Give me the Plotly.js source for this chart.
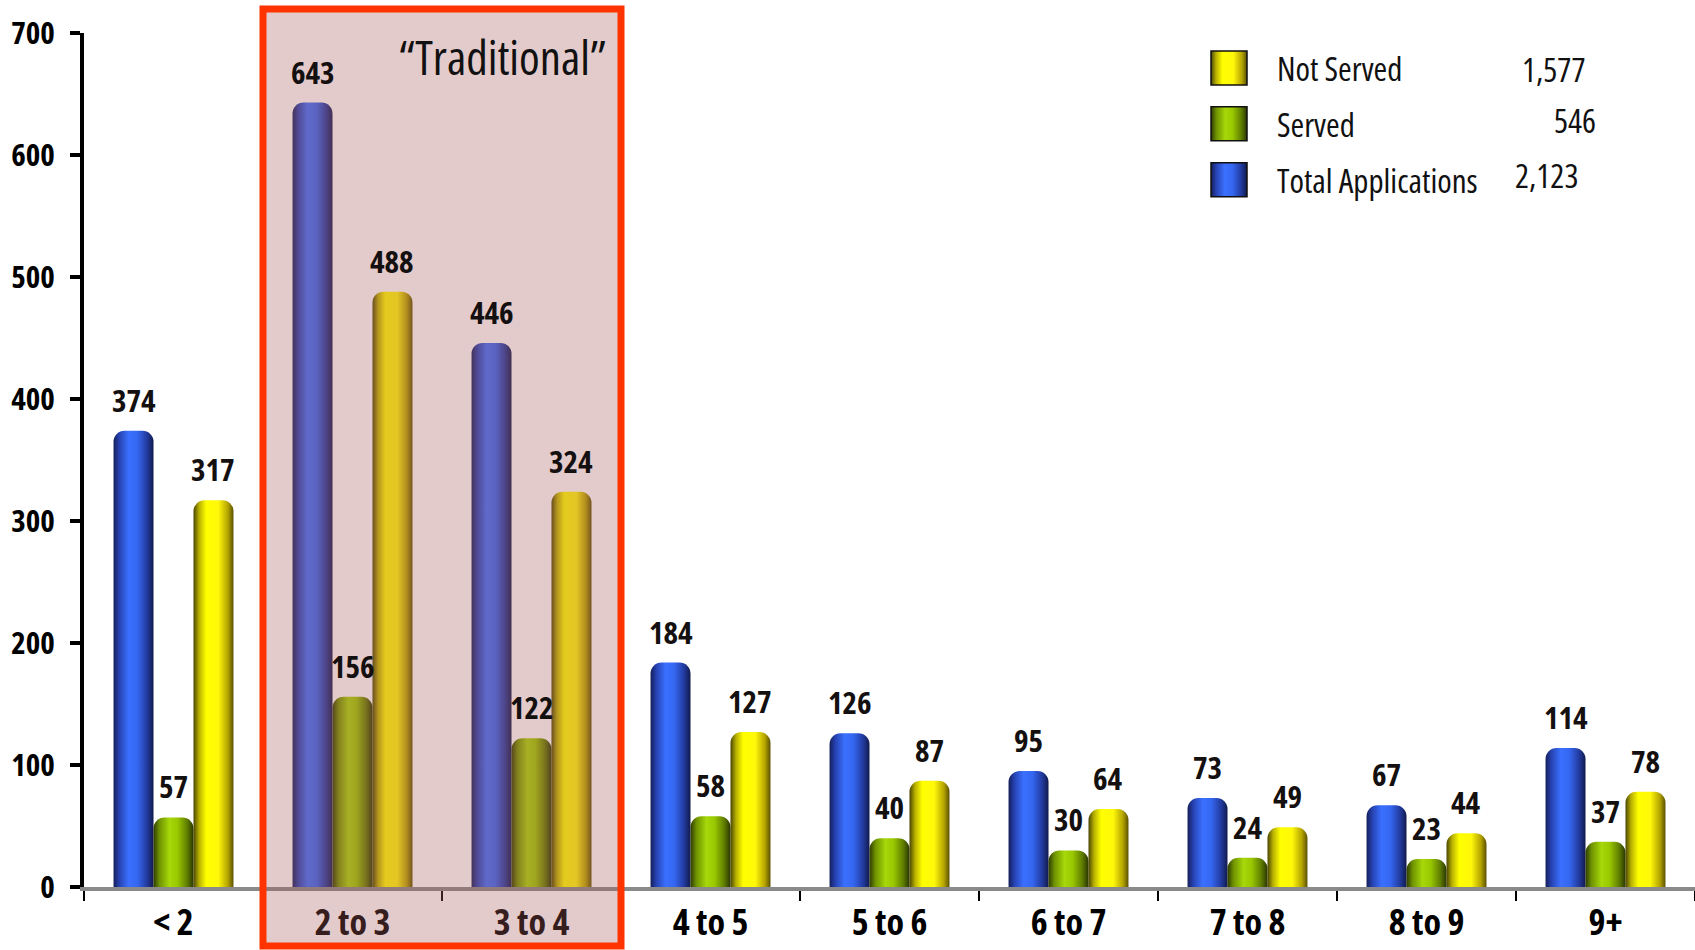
<!DOCTYPE html>
<html>
<head>
<meta charset="utf-8">
<script src="https://cdn.plot.ly/plotly-3.0.1.min.js"></script>
<style>
  html, body { margin: 0; padding: 0; background: #ffffff; }
  #chart { width: 1695px; height: 950px; }
  /* condensed face for every chart label (also used when Plotly measures text) */
  svg text { font-stretch: 75% !important; }
</style>
</head>
<body>
<div id="chart"></div>
<script>
// Applications by category, split into served / not served
const categories = ['< 2', '2 to 3', '3 to 4', '4 to 5', '5 to 6', '6 to 7', '7 to 8', '8 to 9', '9+'];
const totalApplications = [374, 643, 446, 184, 126, 95, 73, 67, 114];
const served = [57, 156, 122, 58, 40, 30, 24, 23, 37];
const notServed = [317, 488, 324, 127, 87, 64, 49, 44, 78];

const seriesNames = ['Total Applications', 'Served', 'Not Served'];
const seriesTotals = ['2,123', '546', '1,577'];

const FONT = '"Open Sans", "Roboto Condensed", "Liberation Sans", Arial, sans-serif';
const BAR_GAP = 0.33;
const PLOT = { left: 84, top: 33, width: 1611, height: 854 };

// cylinder shading, left edge -> right edge
const SHADES = [
  { id: 'shadeBlue', base: '#3366ff', stops: [[0, '#141e58'], [0.14, '#2641b0'], [0.38, '#3b70ff'], [0.6, '#3466f0'], [0.84, '#223a9e'], [1, '#111a4c']] },
  { id: 'shadeGreen', base: '#99cc00', stops: [[0, '#2e3c00'], [0.15, '#6f9200'], [0.4, '#a6d80a'], [0.6, '#99c800'], [0.84, '#607e00'], [1, '#2a3600']] },
  { id: 'shadeYellow', base: '#ffff00', stops: [[0, '#4a4600'], [0.14, '#b8b000'], [0.32, '#ffff00'], [0.62, '#fff80a'], [0.86, '#b4a400'], [1, '#5a5000']] }
];

const seriesValues = [totalApplications, served, notServed];

const data = seriesValues.map((vals, j) => ({
  type: 'bar',
  x: categories,
  y: vals,
  name: seriesNames[j],
  legendgroup: 'g' + j,
  legendrank: 3 - j,
  marker: { color: SHADES[j].base, line: { width: 0 } },
  hoverinfo: 'skip'
}));

// value labels above each bar
const barWidth = (1 - BAR_GAP) / 3;
const annotations = [];
seriesValues.forEach((vals, j) => {
  vals.forEach((v, i) => {
    annotations.push({
      xref: 'x', yref: 'y',
      x: i + (j - 1) * barWidth, y: v,
      text: String(v), showarrow: false,
      xanchor: 'center', yanchor: 'bottom', yshift: 8,
      font: { family: FONT, size: 31, weight: 'bold', color: '#141010' }
    });
  });
});

// totals next to the legend entries
const px2x = (px) => (px - PLOT.left) / PLOT.width;
const px2y = (py) => (PLOT.top + PLOT.height - py) / PLOT.height;
const totalsPos = [[1513, 176], [1552, 120], [1520, 69]];
seriesTotals.forEach((t, j) => {
  annotations.push({
    xref: 'paper', yref: 'paper',
    x: px2x(totalsPos[j][0]), y: px2y(totalsPos[j][1]),
    text: t, showarrow: false, xanchor: 'left', yanchor: 'middle',
    font: { family: FONT, size: 33, color: '#111111' }
  });
});

annotations.push({
  xref: 'x', yref: 'paper',
  x: 2.5, xanchor: 'right', xshift: -13,
  y: px2y(57), yanchor: 'middle',
  text: '\u201CTraditional\u201D', showarrow: false,
  font: { family: FONT, size: 47, color: '#111111' }
});

const layout = {
  width: 1695, height: 950,
  margin: { l: PLOT.left, r: 0, t: PLOT.top, b: 950 - PLOT.top - PLOT.height },
  paper_bgcolor: '#ffffff', plot_bgcolor: '#ffffff',
  font: { family: FONT, color: '#000000' },
  barmode: 'group', bargap: BAR_GAP, bargroupgap: 0, barcornerradius: 11,
  showlegend: true,
  xaxis: {
    type: 'category', range: [-0.5, 8.5],
    tickson: 'boundaries', ticks: 'outside', ticklen: 10, tickwidth: 2, tickcolor: '#000000',
    showline: true, linecolor: '#8a8a8a', linewidth: 4,
    showgrid: false, zeroline: false,
    tickfont: { family: FONT, size: 36, weight: 'bold', color: '#000000' },
    ticklabelstandoff: 1
  },
  yaxis: {
    range: [0, 700], tick0: 0, dtick: 100,
    ticks: 'outside', ticklen: 10, tickwidth: 4, tickcolor: '#000000',
    showline: true, linecolor: '#000000', linewidth: 4,
    showgrid: false, zeroline: false,
    tickfont: { family: FONT, size: 31, weight: 'bold', color: '#000000' },
    ticklabelstandoff: 9
  },
  legend: {
    x: px2x(1181), xanchor: 'left',
    y: px2y(40), yanchor: 'top',
    traceorder: 'grouped', tracegroupgap: 10,
    itemwidth: 86, bgcolor: 'rgba(0,0,0,0)', borderwidth: 0,
    font: { family: FONT, size: 33, color: '#111111' }
  },
  shapes: [{
    type: 'rect', xref: 'x', yref: 'paper',
    x0: 0.5, x1: 2.5, y0: px2y(946), y1: px2y(9),
    layer: 'above',
    fillcolor: 'rgba(170,94,94,0.32)',
    line: { color: '#ff3300', width: 7 }
  }],
  annotations: annotations
};

const SVGNS = 'http://www.w3.org/2000/svg';

function addShadeDefs(svg) {
  let defs = svg.querySelector('defs');
  if (!defs) { defs = document.createElementNS(SVGNS, 'defs'); svg.insertBefore(defs, svg.firstChild); }
  SHADES.forEach((s) => {
    const g = document.createElementNS(SVGNS, 'linearGradient');
    g.setAttribute('id', s.id);
    g.setAttribute('x1', '0'); g.setAttribute('y1', '0');
    g.setAttribute('x2', '1'); g.setAttribute('y2', '0');
    s.stops.forEach(([o, c]) => {
      const st = document.createElementNS(SVGNS, 'stop');
      st.setAttribute('offset', o);
      st.setAttribute('stop-color', c);
      g.appendChild(st);
    });
    defs.appendChild(g);
  });
}

function traceIndexOf(el, fallback) {
  const d = el.__data__;
  if (d && d[0] && d[0].trace) return d[0].trace.index;
  return fallback;
}

function shadeBars(gd) {
  const svg = gd.querySelector('svg.main-svg');
  addShadeDefs(svg);
  gd.querySelectorAll('.barlayer .trace').forEach((tr, k) => {
    const idx = traceIndexOf(tr, k);
    tr.querySelectorAll('.point path').forEach((p) => {
      p.style.fill = 'url(#' + SHADES[idx].id + ')';
    });
  });
  gd.querySelectorAll('.legend .traces').forEach((item, k) => {
    const idx = traceIndexOf(item, 2 - k);
    const p = item.querySelector('.legendpoints path');
    if (!p) return;
    p.setAttribute('d', 'M18,17H-18V-17H18Z');
    p.style.fill = 'url(#' + SHADES[idx].id + ')';
    p.style.stroke = '#111111';
    p.style.strokeWidth = '1.5px';
  });
}

const gd = document.getElementById('chart');
Plotly.newPlot(gd, data, layout, { staticPlot: true }).then(shadeBars);
</script>
</body>
</html>
